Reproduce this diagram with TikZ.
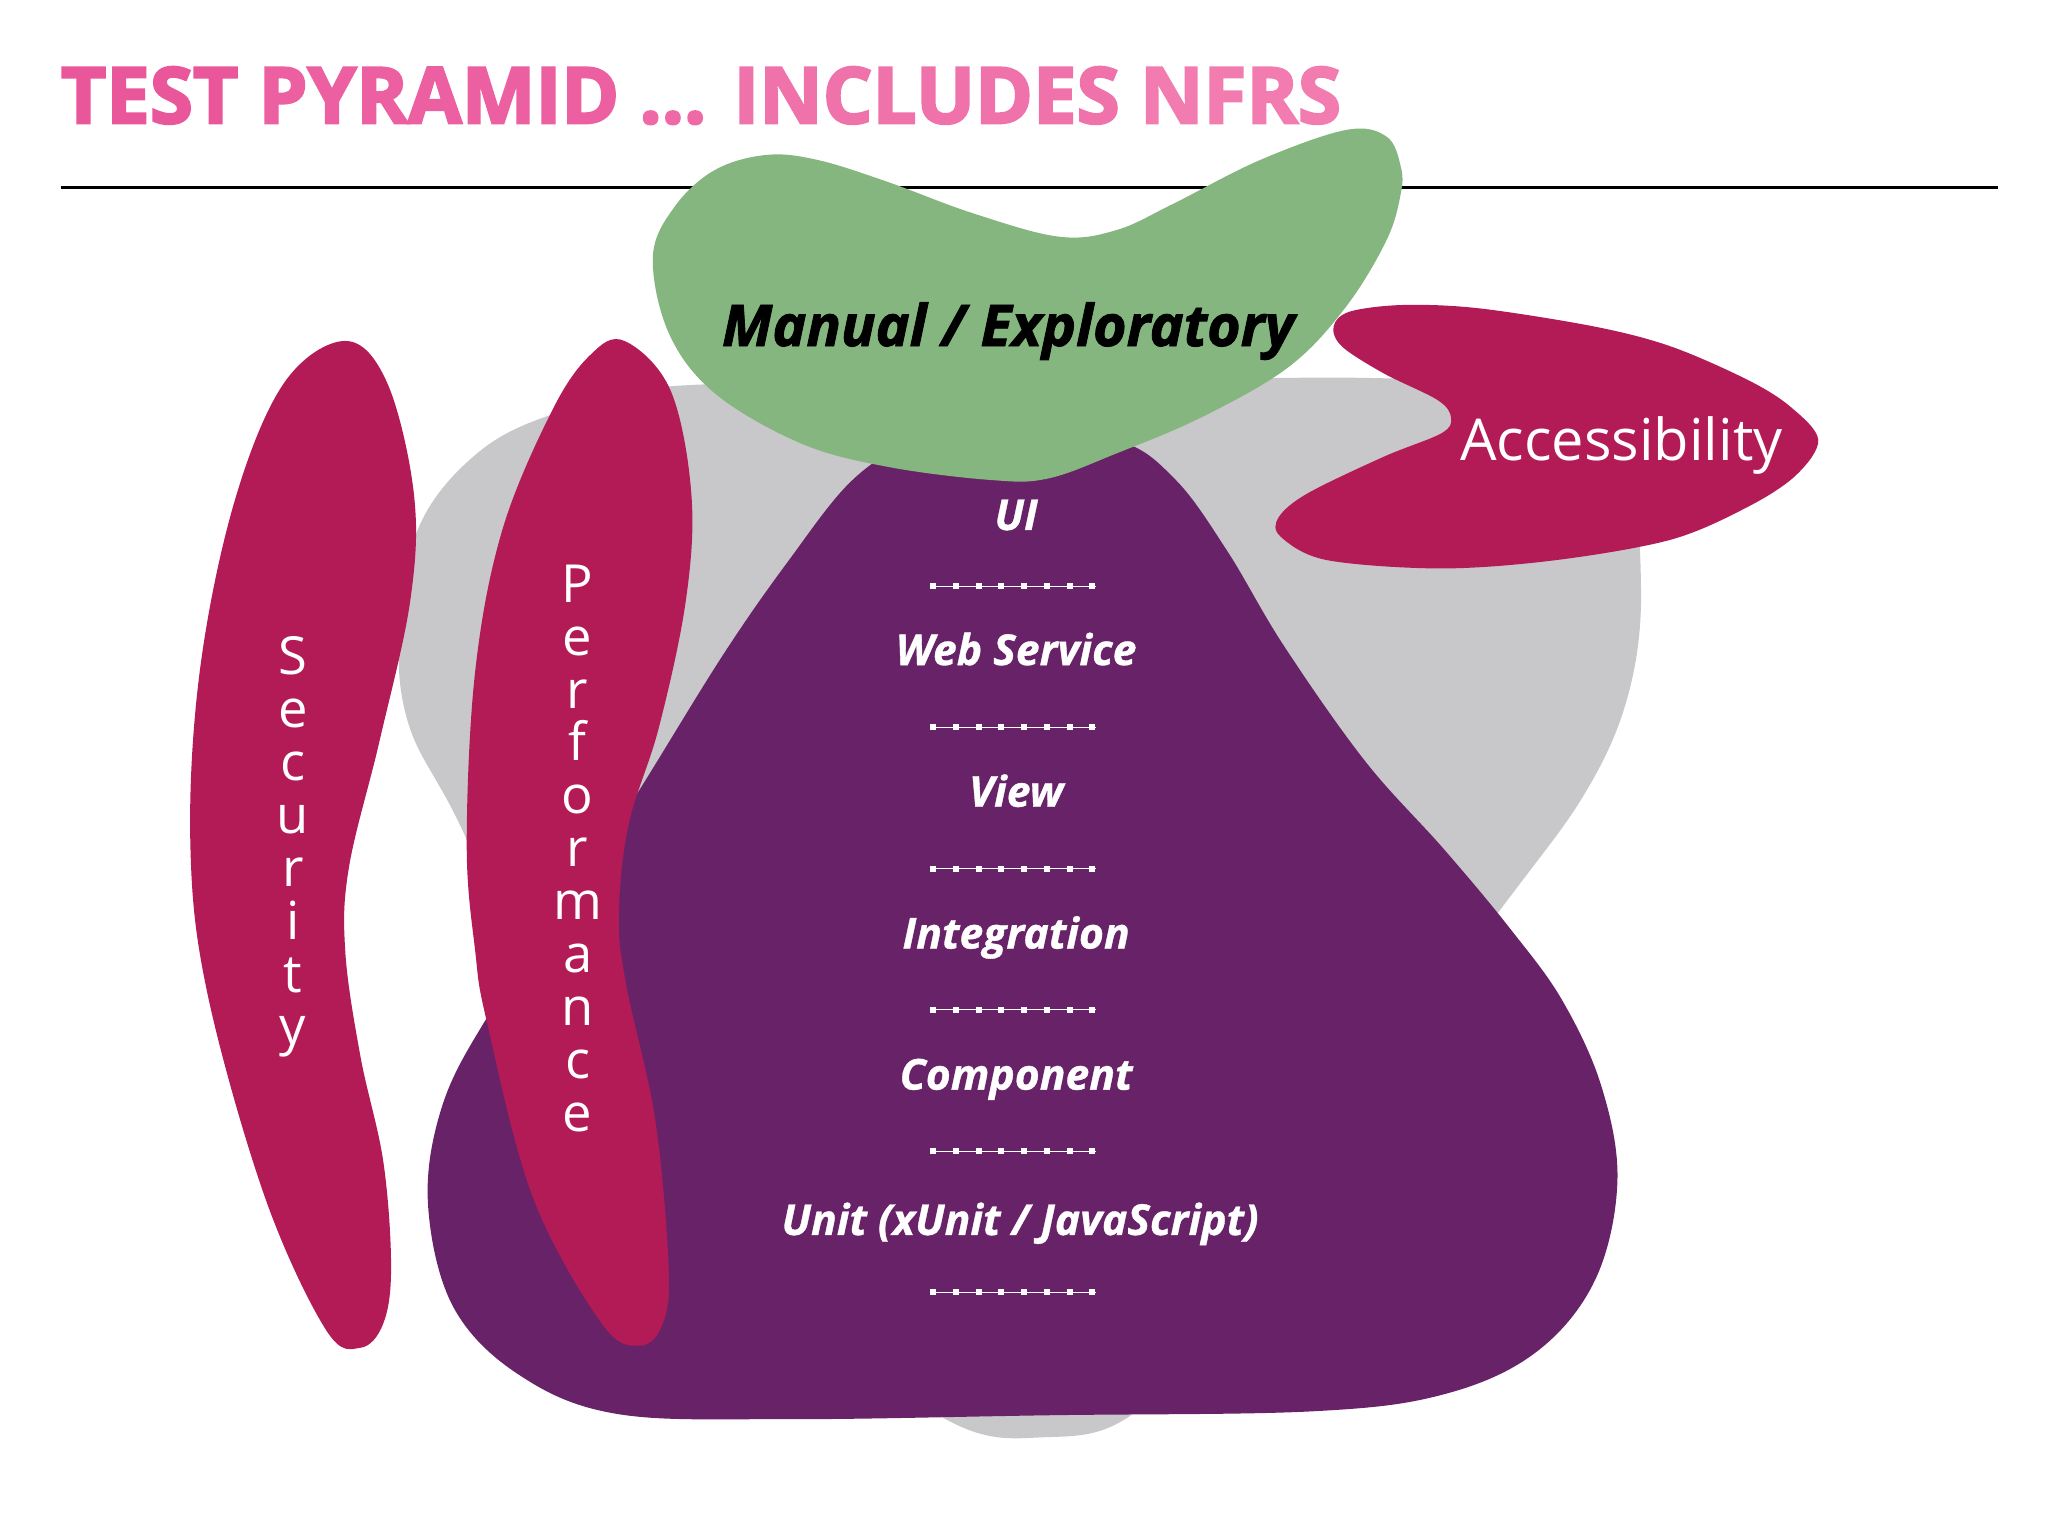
\documentclass[tikz,border=0pt]{standalone}
\usepackage{fontspec}
\setmainfont{Open Sans}
\newfontfamily\heavytitle{Open Sans}[BoldFeatures={FakeBold=3}]
\newfontfamily\heavymid{Open Sans}[BoldItalicFeatures={FakeBold=1.5}]
\newfontfamily\heavylab{Open Sans}[BoldItalicFeatures={FakeBold=0.8}]
\usepackage{graphicx}
\definecolor{blobgray}{HTML}{C8C7CA}
\definecolor{blobpurple}{HTML}{682368}
\definecolor{blobmag}{HTML}{B31B56}
\definecolor{blobgreen}{HTML}{85B67F}
\definecolor{pinkA}{HTML}{EA569A}
\definecolor{pinkB}{HTML}{EC5FA0}
\definecolor{pinkC}{HTML}{EE69A6}
\definecolor{pinkD}{HTML}{F072AB}
\definecolor{pinkE}{HTML}{F27BB0}
\begin{document}
\begin{tikzpicture}[x=1pt,y=-1pt,
  layerlab/.style={text=white, font=\heavylab\fontsize{32.5}{32.5}\selectfont\bfseries\itshape, anchor=base, inner sep=0pt},
  vertlab/.style={text=white, font=\fontsize{40}{40.3}\selectfont, align=center, anchor=north, inner sep=0pt},
  dotline/.style={white, line width=0.8pt}]
\useasboundingbox[fill=white] (0,0) rectangle (1560,1170);

% title and rule
\node[anchor=base west, inner sep=0pt] (title) at (46.2,93.9)
  {\resizebox{975pt}{43pt}{\heavytitle\bfseries\color{pinkA}TEST \color{pinkB}PYRAMID \color{pinkC}... \color{pinkD}INCLUDES \color{pinkE}NFRS}};
\coordinate (ruleL) at (46.2,143);
\coordinate (ruleR) at (1522,143);
\draw[line width=2pt, black] (ruleL) -- (ruleR);

% gray blob
\fill[blobgray] plot[smooth cycle, tension=0.6] coordinates {
 (414,318) (514,294) (800,291) (1048,288) (1185,300) (1238,360) (1250,450)
 (1240,530) (1208,603) (1145,690) (1000,880) (880,1062) (790,1095) (705,1072)
 (560,950) (420,790) (353,634) (312,554) (304,484) (318,404) (358,350)};

% purple blob
\fill[blobpurple] plot[smooth cycle, tension=0.6] coordinates {
 (760,325) (850,335) (895,365) (935,420) (978,492) (1040,580) (1100,647)
 (1150,707) (1190,762) (1220,828) (1232,900) (1215,975) (1170,1030) (1100,1062)
 (1000,1075) (800,1078) (600,1081) (470,1077) (395,1047) (345,995) (326,917)
 (336,845) (368,780) (430,690) (485,605) (550,500) (600,428) (650,365) (700,335)};

% green blob
\fill[blobgreen] plot[smooth cycle, tension=0.6] coordinates {
 (497.3,195.5) (513.9,157.4) (544.5,129.5) (583.9,118) (623,121.9) (675.7,138.4)
 (741.2,162.5) (806.7,180.3) (850.6,175.2) (894.3,154.9) (959.8,121.9) (1025.3,99)
 (1056.2,104.1) (1067,127) (1067,147.3) (1056.2,182.8) (1025.3,233.6) (981.9,279.3)
 (916.1,317.4) (850.6,345.3) (798.2,364.5) (754.4,365.6) (675.7,355.5) (610,337.7)
 (544.5,299.6) (509.5,253.9)};

% security blob
\fill[blobmag] plot[smooth cycle, tension=0.6] coordinates {
 (263,259.7) (295,291.8) (315.4,377.4) (312.5,457.5) (289.1,564.4) (265.8,660.6)
 (263,724.7) (274.6,804.9) (292,885) (297.9,965) (292,1008) (274.6,1026.6)
 (248.3,1013) (201.7,911.7) (158,756.8) (145,643) (152.2,511) (178.4,382.7)
 (216.3,291.8)};

% performance blob
\fill[blobmag] plot[smooth cycle, tension=0.6] coordinates {
 (475.7,259.7) (510.7,297.2) (526.7,377.4) (522.4,457.5) (502,553.7) (478.7,628.5)
 (471.4,698) (477.2,751.4) (499.1,853) (509.3,965) (504.9,1008) (487.4,1025)
 (458.3,1008) (405.8,911.7) (370.8,778.1) (362,724.7) (355.5,643) (362,511)
 (382.5,404.1) (420.3,313.2) (449.5,270.5)};

% accessibility blob
\fill[blobmag] plot[smooth cycle, tension=0.55] coordinates {
 (1015.8,248.8) (1028,237.4) (1068.8,232.3) (1127,234.9) (1214.8,248.8) (1273,264)
 (1331.5,289.5) (1364,310) (1385,335) (1368,362) (1331.5,386) (1273,411)
 (1185.6,426.6) (1098,433) (1010.5,426.6) (975.5,408.8) (974,394) (996,375.8)
 (1054,347.9) (1098,330) (1105.3,318) (1095,304.7) (1054,284.4) (1022.3,264)};

% labels
\node[anchor=base, inner sep=0pt] (manual) at (768,263.6)
  {\resizebox{436pt}{33.3pt}{\heavymid\bfseries\itshape Manual / Exploratory}};
\node[anchor=base west, inner sep=0pt, text=white, font=\fontsize{44}{44}\selectfont] (access) at (1112,350.5) {Accessibility};
\node[vertlab] (security) at (223,484.7) {S\\e\\c\\u\\r\\i\\t\\y};
\node[vertlab] (performance) at (440,430) {P\\e\\r\\f\\o\\r\\m\\a\\n\\c\\e};

\node[layerlab] (ui) at (774,403.7) {UI};
\node[layerlab] (web) at (774,506.6) {Web Service};
\node[layerlab] (view) at (774,614.5) {View};
\node[layerlab] (integ) at (774,722.5) {Integration};
\node[layerlab] (comp) at (774,830) {Component};
\node[layerlab] (unit) at (777,940.7) {Unit (xUnit / JavaScript)};

% dotted separators
\foreach \yy in {446.4,554,661.6,769.2,876.8,984.4} {
  \draw[dotline] (710.7,\yy) -- (835,\yy);
  \foreach \i in {0,...,7} {
    \fill[white] ({710.7+17.33*\i-2.3},{\yy-2.3}) rectangle +(4.6,4.6);
  }
}
\end{tikzpicture}
\end{document}
